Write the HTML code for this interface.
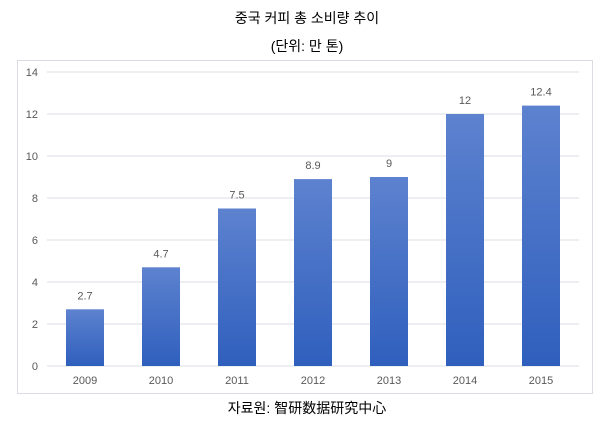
<!DOCTYPE html>
<html><head><meta charset="utf-8"><style>
body{margin:0;background:#fff;width:614px;height:425px;overflow:hidden;font-family:"Liberation Sans","Noto Sans CJK KR",sans-serif}
</style></head><body>
<svg width="614" height="425">
<defs><linearGradient id="g" x1="0" y1="0" x2="0" y2="1"><stop offset="0" stop-color="#5d82cf"/><stop offset="1" stop-color="#2f5fbd"/></linearGradient></defs>
<text x="307" y="23" text-anchor="middle" font-size="14" fill="#000" font-family="Liberation Sans, Noto Sans CJK KR, sans-serif">중국 커피 총 소비량 추이</text>
<text x="307" y="51" text-anchor="middle" font-size="14" fill="#000" font-family="Liberation Sans, Noto Sans CJK KR, sans-serif">(단위: 만 톤)</text>
<rect x="17.5" y="60.5" width="575" height="333" fill="none" stroke="#d9dde3"/>
<g id="grid"></g><g id="bars"></g>
<text x="307" y="413" text-anchor="middle" font-size="14" fill="#000" font-family="Liberation Sans, Noto Sans CJK KR, Noto Sans CJK SC, sans-serif">자료원: 智研数据研究中心</text>
</svg>
<script>
const categories=["2009","2010","2011","2012","2013","2014","2015"];
const values=[2.7,4.7,7.5,8.9,9,12,12.4];
const labels=["2.7","4.7","7.5","8.9","9","12","12.4"];
const yTicks=[0,2,4,6,8,10,12,14];
const NS="http://www.w3.org/2000/svg";
const x0=47,x1=579,yB=366,yT=72,yMax=14;
const bw=(x1-x0)/categories.length;
const y=v=>yB-(v/yMax)*(yB-yT);
const xc=i=>x0+bw*(i+0.5);
function mk(t,a,p){const e=document.createElementNS(NS,t);for(const k in a)e.setAttribute(k,a[k]);p.appendChild(e);return e;}
const G=document.getElementById('grid'),B=document.getElementById('bars');
yTicks.forEach(t=>{
 const l=mk('line',{x1:x0,x2:x1,y1:y(t),y2:y(t),stroke:'#d9dde3','stroke-width':1},G);
 
 
 const tx=mk('text',{x:38,y:y(t)+4,'text-anchor':'end','font-size':11,fill:'#595959'},G);
 tx.textContent=t;
 
 
});
categories.forEach((c,i)=>{
 const r=mk('rect',{x:xc(i)-19,y:y(values[i]),width:38,height:yB-y(values[i]),fill:'url(#g)'},B);
 
 
 const v=mk('text',{x:xc(i),y:y(values[i])-10,'text-anchor':'middle','font-size':11,fill:'#595959'},B);
 v.textContent=labels[i];
 
 
 const xl=mk('text',{x:xc(i),y:384,'text-anchor':'middle','font-size':11,fill:'#595959'},B);
 xl.textContent=c;
 
 
});
</script>
</body></html>
